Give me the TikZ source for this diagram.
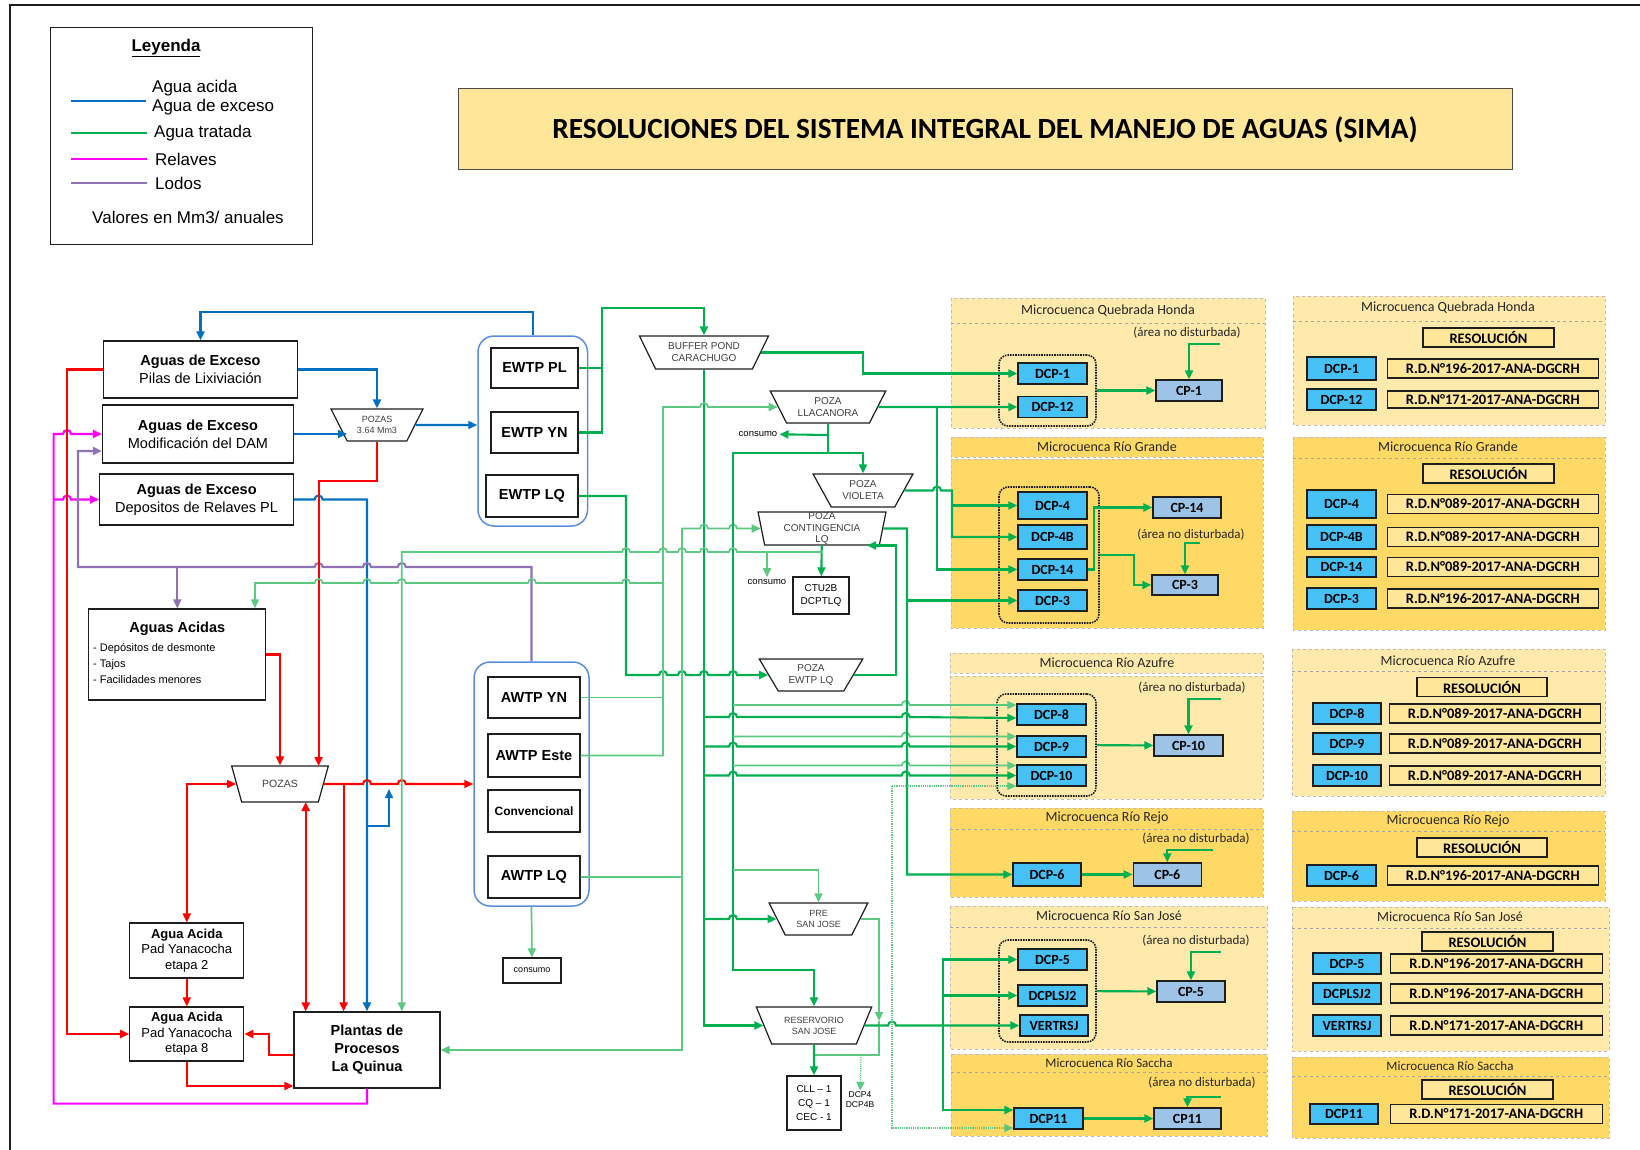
\documentclass[tikz,border=0pt]{standalone}
\usepackage{fontspec}
\setmainfont{Liberation Sans}
\newfontfamily\calibri{Carlito}
\usetikzlibrary{shapes.geometric, arrows.meta, positioning, calc}
\definecolor{tinta}{HTML}{1E1E1E}
\definecolor{azul}{HTML}{0070C0}
\definecolor{verde}{HTML}{00B050}
\definecolor{verdecl}{HTML}{5BC97F}
\definecolor{rojo}{HTML}{FF0000}
\definecolor{relave}{HTML}{FF00FF}
\definecolor{lodo}{HTML}{8E72B4}
\definecolor{marco}{HTML}{5B8ED8}
\definecolor{amarclaro}{HTML}{FFE9AB}
\definecolor{amarosc}{HTML}{FFD966}
\definecolor{amartit}{HTML}{FFE699}
\definecolor{celeste}{HTML}{45C1F5}
\definecolor{celestecp}{HTML}{9DC3E6}
\definecolor{borde}{HTML}{BDBDBD}
\newcommand\saltoder{arc[start angle=180, end angle=0, radius=4pt]}
\newcommand\saltoizq{arc[start angle=0, end angle=180, radius=4pt]}
\tikzset{
  caja/.style={rectangle, draw=tinta, line width=1.2pt, fill=white, align=center, inner sep=1pt,
               font=\fontsize{14.5}{18}\selectfont},
  cajachica/.style={caja, font=\fontsize{13}{15.5}\selectfont},
  planta/.style={caja, minimum width=92pt, minimum height=42pt, font=\fontsize{14.5}{17}\selectfont\bfseries},
  poza/.style={trapezium, trapezium angle=58, shape border rotate=180, trapezium stretches=true,
               draw=tinta, line width=1.2pt, fill=white, inner sep=0pt, align=center,
               text=black!75, font=\fontsize{10}{12}\selectfont},
  contenedor/.style={rectangle, rounded corners=16pt, draw=marco, line width=1.5pt},
  grupo/.style={rectangle, rounded corners=9pt, draw=tinta, densely dotted, line width=1.6pt},
  dcp/.style={rectangle, draw=tinta, line width=1.3pt, fill=celeste, inner sep=0pt,
              minimum width=69pt, minimum height=21pt, font=\calibri\fontsize{14}{16}\selectfont\bfseries},
  cpc/.style={dcp, fill=celestecp},
  resol/.style={rectangle, draw=tinta, line width=1.2pt, fill=amartit, inner sep=0pt,
                minimum width=211pt, minimum height=19pt, font=\calibri\fontsize{14.5}{16}\selectfont\bfseries},
  panelcl/.style={fill=amarclaro, draw=borde, dashed, line width=0.7pt},
  panelos/.style={fill=amarosc, draw=borde, dashed, line width=0.7pt},
  divisor/.style={draw=black!35, dashed, line width=0.7pt},
  micro/.style={font=\calibri\fontsize{14}{16}\selectfont, text=black!85},
  nodist/.style={font=\calibri\fontsize{13}{15}\selectfont, text=black!85},
  nota/.style={font=\fontsize{9.5}{11}\selectfont, inner sep=2pt},
  leyt/.style={anchor=west, inner sep=0pt, font=\fontsize{17}{19}\selectfont},
  flecha/.style={line width=2.1pt, ->},
  linea/.style={line width=2.1pt},
  flechacl/.style={verdecl, line width=1.7pt, ->}
}

\begin{document}
\begin{tikzpicture}[x=1pt, y=-1pt, >={Triangle[length=9pt, width=8pt]}]
  \useasboundingbox (0,0) rectangle (1640,1150);
  \draw [line width=2.5pt, tinta] (10,5) rectangle (1700,1200);

  % leyenda y titulo
  \node (leyenda) [draw=tinta, line width=1pt, minimum width=262pt, minimum height=217pt] at (181,136.5) {};
  \node (leyendaT) at (166,48) [font=\fontsize{17}{20}\selectfont\bfseries] {\underline{Leyenda}};
  \draw [azul, line width=2.5pt] (71,101) -- (146,101);
  \draw [verde, line width=2.5pt] (71,133) -- (147,133);
  \draw [relave, line width=2.5pt] (71,159) -- (147,159);
  \draw [lodo, line width=2.5pt] (71,183) -- (147,183);
  \node (leyAcida) [leyt, align=left] at (152,97.5) {Agua acida\\Agua de exceso};
  \node (leyTratada) [leyt] at (154,133) {Agua tratada};
  \node (leyRelaves) [leyt] at (155,159) {Relaves};
  \node (leyLodos) [leyt] at (155,183) {Lodos};
  \node (leyValores) [font=\fontsize{17}{19}\selectfont] at (188,217) {Valores en Mm3/ anuales};
  \node (titulo) [draw=tinta!80, line width=1pt, fill=amartit, minimum width=1054pt, minimum height=81pt,
                  font=\calibri\fontsize{29.3}{34}\selectfont\bfseries] at (985,129.5)
        {RESOLUCIONES DEL SISTEMA INTEGRAL DEL MANEJO DE AGUAS (SIMA)};

  % paneles de microcuencas
  \draw [panelcl] (951,298) rectangle (1265,428);
  \draw [divisor] (951,323) -- (1265,323);
  \draw [panelos] (951,437) rectangle (1263,457);
  \draw [panelos] (951,459) rectangle (1263,628);
  \draw [panelcl] (950,653) rectangle (1263,673);
  \draw [panelcl] (950,676) rectangle (1263,799);
  \draw [panelos] (950,808) rectangle (1263,897);
  \draw [divisor] (950,829) -- (1263,829);
  \draw [panelcl] (950,906) rectangle (1267,1049);
  \draw [divisor] (950,927) -- (1267,927);
  \draw [panelos] (951,1054) rectangle (1267,1136);
  \draw [divisor] (951,1072) -- (1267,1072);
  \draw [panelcl] (1293,296) rectangle (1605,425);
  \draw [divisor] (1293,321) -- (1605,321);
  \draw [panelos] (1293,437) rectangle (1605,630);
  \draw [divisor] (1293,458) -- (1605,458);
  \draw [panelcl] (1292,649) rectangle (1605,796);
  \draw [divisor] (1292,671) -- (1605,671);
  \draw [panelos] (1292,811) rectangle (1605,901);
  \draw [divisor] (1292,831) -- (1605,831);
  \draw [panelcl] (1292,907) rectangle (1609,1051);
  \draw [divisor] (1292,928) -- (1609,928);
  \draw [panelos] (1292,1057) rectangle (1609,1138);
  \draw [divisor] (1292,1076) -- (1609,1076);

  % fuentes de agua
  \node (exPL) [caja, minimum width=194pt, minimum height=57pt] at (200.5,369.5)
        {\textbf{Aguas de Exceso}\\Pilas de Lixiviación};
  \node (exDAM) [caja, minimum width=191pt, minimum height=58pt] at (198,434)
        {\textbf{Aguas de Exceso}\\Modificación del DAM};
  \node (exRel) [caja, minimum width=194pt, minimum height=51pt] at (196.6,499.5)
        {\textbf{Aguas de Exceso}\\Depositos de Relaves PL};
  \node (acidas) [caja, minimum width=177pt, minimum height=91pt] at (177.3,654.5) {};
  \node (acidasT) at (177.3,629) [font=\fontsize{14.5}{17}\selectfont\bfseries] {Aguas Acidas};
  \node (acidasL) [anchor=west, align=left, inner sep=0pt, font=\fontsize{11}{16}\selectfont] at (93,663)
        {- Depósitos de desmonte\\- Tajos\\- Facilidades menores};
  \node (pozas1) [poza, minimum width=92pt, minimum height=32pt, font=\fontsize{9}{11}\selectfont] at (377,425) {POZAS\\3.64 Mm3};
  \node (pozas2) [poza, minimum width=97pt, minimum height=36pt, font=\fontsize{10.5}{12}\selectfont] at (280,784) {POZAS};
  \node (etapa2) [cajachica, minimum width=114pt, minimum height=55pt] at (186.8,950.5)
        {\textbf{Agua Acida}\\Pad Yanacocha\\etapa 2};
  \node (etapa8) [cajachica, minimum width=114pt, minimum height=54pt] at (186.8,1034)
        {\textbf{Agua Acida}\\Pad Yanacocha\\etapa 8};
  \node (plantas) [caja, minimum width=146pt, minimum height=76pt, font=\fontsize{14.5}{18}\selectfont\bfseries]
        at (367,1050) {Plantas de\\Procesos\\La Quinua};

  % plantas de tratamiento
  \node (ewtpBox) [contenedor, minimum width=109.5pt, minimum height=190pt] at (532.75,431) {};
  \node (ewtpPL) [planta, minimum width=87pt, minimum height=40pt] at (534.5,368) {EWTP PL};
  \node (ewtpYN) [planta, minimum width=87pt, minimum height=41pt] at (534.5,432.5) {EWTP YN};
  \node (ewtpLQ) [planta] at (532,496) {EWTP LQ};
  \node (awtpBox) [contenedor, minimum width=115pt, minimum height=244pt] at (531.5,784) {};
  \node (awtpYN) [planta, minimum height=41pt] at (534,697.5) {AWTP YN};
  \node (awtpEste) [planta, minimum height=43pt] at (534,755.5) {AWTP Este};
  \node (conv) [planta, font=\fontsize{12}{14}\selectfont\bfseries] at (534,811) {Convencional};
  \node (awtpLQ) [planta] at (534,877) {AWTP LQ};
  \node (consumoC) [caja, minimum width=58pt, minimum height=25pt, font=\fontsize{9}{11}\selectfont] at (532,970.5) {consumo};

  % pozas
  \node (buffer) [poza, minimum width=130pt, minimum height=33pt] at (704,352.5) {BUFFER POND\\CARACHUGO};
  \node (llacanora) [poza, minimum width=116pt, minimum height=32pt] at (828,407) {POZA\\LLACANORA};
  \node (violeta) [poza, minimum width=100pt, minimum height=33pt] at (863,490.5) {POZA\\VIOLETA};
  \node (contingencia) [poza, minimum width=129pt, minimum height=33pt] at (822,528.5) {\phantom{CONTINGENCIA}};
  \node (contingenciaT) at (contingencia.center) [align=center, text=black!75, font=\fontsize{10}{11.5}\selectfont]
        {POZA\\CONTINGENCIA\\LQ};
  \node (pozaEWTP) [poza, minimum width=104pt, minimum height=32pt] at (811,675) {POZA\\EWTP LQ};
  \node (pre) [poza, minimum width=99pt, minimum height=32pt, font=\fontsize{9}{11}\selectfont] at (818.5,919) {PRE\\SAN JOSE};
  \node (reservorio) [poza, minimum width=116pt, minimum height=37pt, font=\fontsize{9}{11}\selectfont] at (814,1025.5)
        {RESERVORIO\\SAN JOSE};
  \node (ctu2b) [caja, minimum width=56pt, minimum height=37pt, font=\fontsize{10}{13}\selectfont] at (821,595.5) {CTU2B\\DCPTLQ};
  \node (cll) [caja, minimum width=54pt, minimum height=54pt, font=\fontsize{10}{14}\selectfont] at (814,1103)
        {CLL -- 1\\CQ -- 1\\CEC - 1};
  \node (consumoA) [nota] at (758,434) {consumo};
  \node (consumoB) [nota] at (767,582) {consumo};
  \node (dcpT) [align=center, font=\fontsize{8.5}{10}\selectfont, inner sep=1pt] at (860,1100) {DCP4\\DCP4B};

  % microcuencas: puntos de control
  \node (tQH) [micro] at (1108,311) {Microcuenca Quebrada Honda};
  \node (nQH) [nodist] at (1187,333) {(área no disturbada)};
  \node (grpQH) [grupo, minimum width=97pt, minimum height=71pt] at (1047.5,390.5) {};
  \node (dcp1) [dcp] at (1052.5,373.5) {DCP-1};
  \node (dcp12) [dcp] at (1052.5,407) {DCP-12};
  \node (cp1) [cpc, minimum width=66pt] at (1189,390.5) {CP-1};

  \node (tRG) [micro] at (1107,447) {Microcuenca Río Grande};
  \node (nRG) [nodist] at (1191,535) {(área no disturbada)};
  \node (grpRG) [grupo, minimum width=100pt, minimum height=136pt] at (1049,555) {};
  \node (dcp4) [dcp, minimum height=27pt] at (1052.5,505.5) {DCP-4};
  \node (dcp4b) [dcp, minimum height=24pt] at (1052.5,537) {DCP-4B};
  \node (dcp14) [dcp] at (1052.5,569.5) {DCP-14};
  \node (dcp3) [dcp] at (1052.5,600.5) {DCP-3};
  \node (cp14) [cpc, minimum width=68pt] at (1187,507.5) {CP-14};
  \node (cp3) [cpc, minimum width=66pt, minimum height=20pt] at (1185,585) {CP-3};

  \node (tAZ) [micro] at (1107,663) {Microcuenca Río Azufre};
  \node (nAZ) [nodist] at (1192,688) {(área no disturbada)};
  \node (grpAZ) [grupo, minimum width=99pt, minimum height=102pt] at (1046.5,745) {};
  \node (dcp8) [dcp] at (1051.5,714.5) {DCP-8};
  \node (dcp9) [dcp] at (1051.5,746.5) {DCP-9};
  \node (dcp10) [dcp] at (1051.5,775.5) {DCP-10};
  \node (cp10) [cpc] at (1188.5,745.5) {CP-10};

  \node (tRJ) [micro] at (1107,818) {Microcuenca Río Rejo};
  \node (nRJ) [nodist] at (1196,839) {(área no disturbada)};
  \node (dcp6) [dcp, minimum width=68pt, minimum height=23pt] at (1047,874.5) {DCP-6};
  \node (cp6) [cpc, minimum width=68pt, minimum height=23pt, right=51pt of dcp6] {CP-6};

  \node (tSJ) [micro] at (1109,916) {Microcuenca Río San José};
  \node (nSJ) [nodist] at (1196,941) {(área no disturbada)};
  \node (grpSJ) [grupo, minimum width=97pt, minimum height=102pt] at (1047.5,991) {};
  \node (dcp5) [dcp] at (1052.5,959.5) {DCP-5};
  \node (dcplsj2) [dcp] at (1052.5,995.5) {DCPLSJ2};
  \node (vertrsj) [dcp, minimum width=68pt] at (1054,1025.5) {VERTRSJ};
  \node (cp5) [cpc, minimum width=68pt] at (1191,991.5) {CP-5};

  \node (tSA) [micro, font=\calibri\fontsize{13}{15}\selectfont] at (1109,1063) {Microcuenca Río Saccha};
  \node (nSA) [nodist] at (1202,1083) {(área no disturbada)};
  \node (dcp11) [dcp] at (1048.5,1118.5) {DCP11};
  \node (cp11) [cpc, minimum width=67pt] at (1187.5,1118.5) {CP11};

  % microcuencas: resoluciones
  \node (tQH2) [micro] at (1448,308) {Microcuenca Quebrada Honda};
  \node (resQH) [resol, minimum width=131pt] at (1488.5,337.5) {RESOLUCIÓN};
  \node (rdcp1) [dcp, minimum height=23pt] at (1341.5,368.5) {DCP-1};
  \node (rd1) [resol, right=10pt of rdcp1] {R.D.N°196-2017-ANA-DGCRH};
  \node (rdcp12) [dcp] at (1341.5,399.5) {DCP-12};
  \node (rd12) [resol, minimum height=17pt, right=10pt of rdcp12] {R.D.N°171-2017-ANA-DGCRH};

  \node (tRG2) [micro] at (1448,447) {Microcuenca Río Grande};
  \node (resRG) [resol, minimum width=131pt] at (1488.5,473.5) {RESOLUCIÓN};
  \node (rdcp4) [dcp, minimum height=28pt] at (1341.5,504) {DCP-4};
  \node (rd4) [resol, right=10pt of rdcp4] {R.D.N°089-2017-ANA-DGCRH};
  \node (rdcp4b) [dcp, minimum height=24pt] at (1341.5,537) {DCP-4B};
  \node (rd4b) [resol, right=10pt of rdcp4b] {R.D.N°089-2017-ANA-DGCRH};
  \node (rdcp14) [dcp, minimum height=20pt] at (1341.5,567) {DCP-14};
  \node (rd14) [resol, right=10pt of rdcp14] {R.D.N°089-2017-ANA-DGCRH};
  \node (rdcp3) [dcp] at (1341.5,598.5) {DCP-3};
  \node (rd3) [resol, right=10pt of rdcp3] {R.D.N°196-2017-ANA-DGCRH};

  \node (tAZ2) [micro] at (1448,661) {Microcuenca Río Azufre};
  \node (resAZ) [resol, minimum width=130pt] at (1482,687) {RESOLUCIÓN};
  \node (rdcp8) [dcp, minimum width=68pt] at (1347,713.5) {DCP-8};
  \node (rd8) [resol, right=7pt of rdcp8] {R.D.N°089-2017-ANA-DGCRH};
  \node (rdcp9) [dcp, minimum width=68pt] at (1347,743.5) {DCP-9};
  \node (rd9) [resol, right=7pt of rdcp9] {R.D.N°089-2017-ANA-DGCRH};
  \node (rdcp10) [dcp, minimum width=68pt] at (1347,775.5) {DCP-10};
  \node (rd10) [resol, right=7pt of rdcp10] {R.D.N°089-2017-ANA-DGCRH};

  \node (tRJ2) [micro] at (1448,821) {Microcuenca Río Rejo};
  \node (resRJ) [resol, minimum width=130pt] at (1482,847.5) {RESOLUCIÓN};
  \node (rdcp6) [dcp] at (1341.5,875.5) {DCP-6};
  \node (rd6) [resol, right=10pt of rdcp6] {R.D.N°196-2017-ANA-DGCRH};

  \node (tSJ2) [micro] at (1450,917) {Microcuenca Río San José};
  \node (resSJ) [resol, minimum width=131pt] at (1487.5,941.5) {RESOLUCIÓN};
  \node (rdcp5) [dcp, minimum width=68pt] at (1347,963.5) {DCP-5};
  \node (rd5) [resol, minimum width=212pt, right=8pt of rdcp5] {R.D.N°196-2017-ANA-DGCRH};
  \node (rdcplsj2) [dcp, minimum width=68pt] at (1347,993.5) {DCPLSJ2};
  \node (rdlsj2) [resol, minimum width=212pt, right=8pt of rdcplsj2] {R.D.N°196-2017-ANA-DGCRH};
  \node (rvertrsj) [dcp, minimum width=68pt] at (1347,1025.5) {VERTRSJ};
  \node (rdvert) [resol, minimum width=212pt, right=8pt of rvertrsj] {R.D.N°171-2017-ANA-DGCRH};

  \node (tSA2) [micro, font=\calibri\fontsize{13}{15}\selectfont] at (1450,1066) {Microcuenca Río Saccha};
  \node (resSA) [resol, minimum width=131pt] at (1487.5,1089.5) {RESOLUCIÓN};
  \node (rdcp11) [dcp, minimum width=68pt, minimum height=20pt] at (1344,1114) {DCP11};
  \node (rd11) [resol, minimum width=212pt, right=11pt of rdcp11] {R.D.N°171-2017-ANA-DGCRH};

  % agua acida / agua de exceso
  \draw [azul, flecha] (ewtpBox.north) -- ++(0,-23) -| (exPL.north);
  \draw [azul, flecha] (exPL.east) -| (pozas1);
  \draw [azul, flecha] (exDAM.east) -- ([xshift=-30pt, yshift=-9pt]pozas1.center);
  \draw [azul, flecha] (pozas1) -- (pozas1 -| ewtpBox.west);
  \draw [azul, flecha] (exRel.east) -- (314.6,499.5) \saltoder -| (plantas.north);
  \coordinate (ramaAzul) at (367,826);
  \draw [azul, line width=1.6pt, ->] (ramaAzul) -| (389,789);

  % relaves y lodos
  \draw [relave, flecha] (plantas.south) -- ++(0,15) -| (53.6,434) -- (63,434) \saltoder -- (exDAM.west);
  \coordinate (ramaRelave) at (53.6,499.5);
  \draw [relave, flecha] (ramaRelave) -- (63,499.5) \saltoder -- (exRel.west);
  \draw [lodo, flecha] (awtpBox.north) -- (531.5,567) -- (405.8,567) \saltoizq -- (371,567) \saltoizq
        -- (322.6,567) \saltoizq -- (78,567) |- ([yshift=-17pt]exDAM.west);
  \draw [lodo, flecha] (acidas.north |- 0,567) -- (acidas.north);

  % agua acida (rojo)
  \draw [rojo, flecha] (exPL.west) -- (67,369.5) |- (etapa8.west);
  \draw [rojo, flecha] (pozas1) |- (318.6,481) -- ([xshift=38.6pt, yshift=18pt]pozas2.center);
  \draw [rojo, flecha] (acidas.east) -| (pozas2);
  \draw [rojo, flecha] (pozas2) -- (363,784) \saltoder -- (397.8,784) \saltoder -- (awtpBox.west);
  \coordinate (ramaRoja) at (343.6,784);
  \draw [rojo, flecha] (ramaRoja) -- (ramaRoja |- plantas.north);
  \coordinate (baseP2) at ([xshift=25.7pt, yshift=-18pt]pozas2.center);
  \draw [rojo, linea, <->] (baseP2) -- (baseP2 |- plantas.north);
  \draw [rojo, linea, <->] (pozas2) -| (etapa2);
  \draw [rojo, flecha] (etapa2) -- (etapa8);
  \draw [rojo, flecha] ([yshift=-5pt]plantas.west) -- (269,1055) |- (etapa8.east);
  \draw [rojo, flecha] (etapa8) |- ([yshift=-36pt]plantas.west);

  % agua tratada: EWTP
  \draw [verde, flecha] (ewtpPL.east) -| (602,308) -| (buffer);
  \draw [verde, linea] (ewtpYN.east) -| (602,368);
  \draw [verde, flecha] (ewtpLQ.east) -| (626,675) -- (659,675) \saltoder -- (678,675) \saltoder
        -- (700,675) \saltoder -- (729,675) \saltoder -- (pozaEWTP);
  \draw [verde, flecha] (buffer) -| (863,373.5) -- (dcp1.west);
  \draw [verde, flecha] (buffer) |- (reservorio);
  \draw [verde, flecha] (704,717) -- (729,717) \saltoder -- (901.7,717) \saltoder -- (dcp8.west |- 0,718);
  \draw [verde, flecha] (704,746.5) -- (729,746.5) \saltoder -- (901.7,746.5) \saltoder -- (dcp9.west);
  \draw [verde, flecha] (704,775.5) -- (729,775.5) \saltoder -- (901.7,775.5) \saltoder -- (dcp10.west);
  \draw [verde, flecha] (704,919) -- (729,919) \saltoder -- (pre);

  % agua tratada: AWTP
  \draw [flechacl] (awtpEste.east) -| (663,407) -- (700,407) \saltoder -- (llacanora);
  \draw [verdecl, line width=1.7pt] (awtpYN.east) -- (663,697.5);
  \coordinate (ramaAcidas) at (663,583);
  \draw [flechacl] (ramaAcidas) -- (630,583) \saltoizq -- (536,583) \saltoizq -- (405.8,583) \saltoizq
        -- (371,583) \saltoizq -- (322.6,583) \saltoizq -- (255,583) -- (acidas.north -| 255,0);
  \draw [flechacl] (awtpLQ.east) -| (682,528.5) -- (700,528.5) \saltoder -- (729,528.5) \saltoder -- (contingencia);
  \draw [flechacl] (682,877) |- (plantas.east);
  \draw [flechacl] (awtpBox.south) -- (consumoC);

  % pozas hacia puntos de control
  \draw [verde, flecha] (llacanora) |- (733,453) -- (733,970) -| (reservorio);
  \draw [verde, flecha] (828,453) -| (violeta);
  \draw [verde, flecha] (828,435) -- (consumoA);
  \draw [verde, flecha] (llacanora) -- (dcp12.west);
  \draw [verde, flecha] (937,407) |- (dcp14.west);
  \draw [flechacl] (733,705) -- (901.7,705) \saltoder -- (dcp8.west |- 0,705);
  \draw [flechacl] (733,736.5) -- (901.7,736.5) \saltoder -- (dcp9.west |- 0,736.5);
  \draw [flechacl] (733,765.5) -- (901.7,765.5) \saltoder -- (dcp10.west |- 0,765.5);
  \draw [flechacl] (733,870) -| (pre);
  \draw [verde, flecha] (violeta) -- (933,490.5) \saltoder -- (952,490.5) |- (dcp4b.west);
  \draw [verde, flecha] (952,505.5) -- (dcp4.west);
  \draw [verde, flecha] (contingencia) -- (907,528.5) |- (dcp6.west);
  \draw [verde, flecha] (907,600.5) -- (dcp3.west);
  \draw [verde, flecha] (contingencia) -- (ctu2b);
  \draw [flechacl] (822,552) -- (737,552) \saltoizq -- (708,552) \saltoizq -- (686,552) \saltoizq
        -- (667,552) \saltoizq -- (630,552) \saltoizq -- (401.8,552) -- (plantas.north -| 401.8,0);
  \draw [flechacl] (767,552) -- (consumoB);
  \coordinate (baseCont) at ([xshift=45pt, yshift=-17pt]contingencia.center);
  \draw [verde, flecha] (pozaEWTP) -| (896,545.5) -- (baseCont);
  \draw [flechacl] (pre) -| (879,1021);
  \draw [verdecl, line width=1.7pt] (879,1021) |- (814,1055);
  \draw [verde, flecha] (reservorio) -- (cll);
  \draw [verde, flecha] (reservorio) -- (888,1025.5) \saltoder -- (vertrsj.west);
  \draw [verde, flecha] (943,1110) |- (dcp5.west);
  \draw [verde, flecha] (943,995.5) -- (dcplsj2.west);
  \draw [verde, flecha] (943,1025.5) |- (dcp11.west |- 0,1110);
  \coordinate (puntoSJ) at (892,786);
  \draw [verdecl, line width=1.2pt, densely dotted, ->] (puntoSJ) -- (dcp10.west |- 0,786);
  \draw [verdecl, line width=1.2pt, densely dotted, ->] (puntoSJ) |- (dcp11.west |- 0,1128);
  \coordinate (puntoDCP4) at (861,1055);
  \draw [verdecl, line width=1.2pt, densely dotted, ->] (puntoDCP4) -- (dcpT);

  % puntos de control
  \draw [verde, flecha] (grpQH) -- (cp1);
  \draw [verde, flecha] (dcp14.east) -- (1094,569.5) |- (cp14.west);
  \draw [verde, flecha] (grpRG) -| (1134,585) -- (cp3);
  \draw [verde, flecha] (grpAZ) -- (cp10);
  \draw [verde, flecha] (dcp6) -- (cp6);
  \draw [verde, flecha] (grpSJ) -- (cp5);
  \draw [verde, flecha] (dcp11) -- (cp11);
  \coordinate (ndQH) at (1220,344);
  \coordinate (ndRG) at (1200,543);
  \coordinate (ndAZ) at (1221,699);
  \coordinate (ndRJ) at (1213,850);
  \coordinate (ndSJ) at (1221,952);
  \coordinate (ndSA) at (1221,1097);
  \draw [verde, flecha] (ndQH) -| (cp1);
  \draw [verde, flecha] (ndRG) -| (cp3);
  \draw [verde, flecha] (ndAZ) -| (cp10);
  \draw [verde, flecha] (ndRJ) -| (cp6);
  \draw [verde, flecha] (ndSJ) -| (cp5);
  \draw [verde, flecha] (ndSA) -| (cp11);
\end{tikzpicture}
\end{document}
